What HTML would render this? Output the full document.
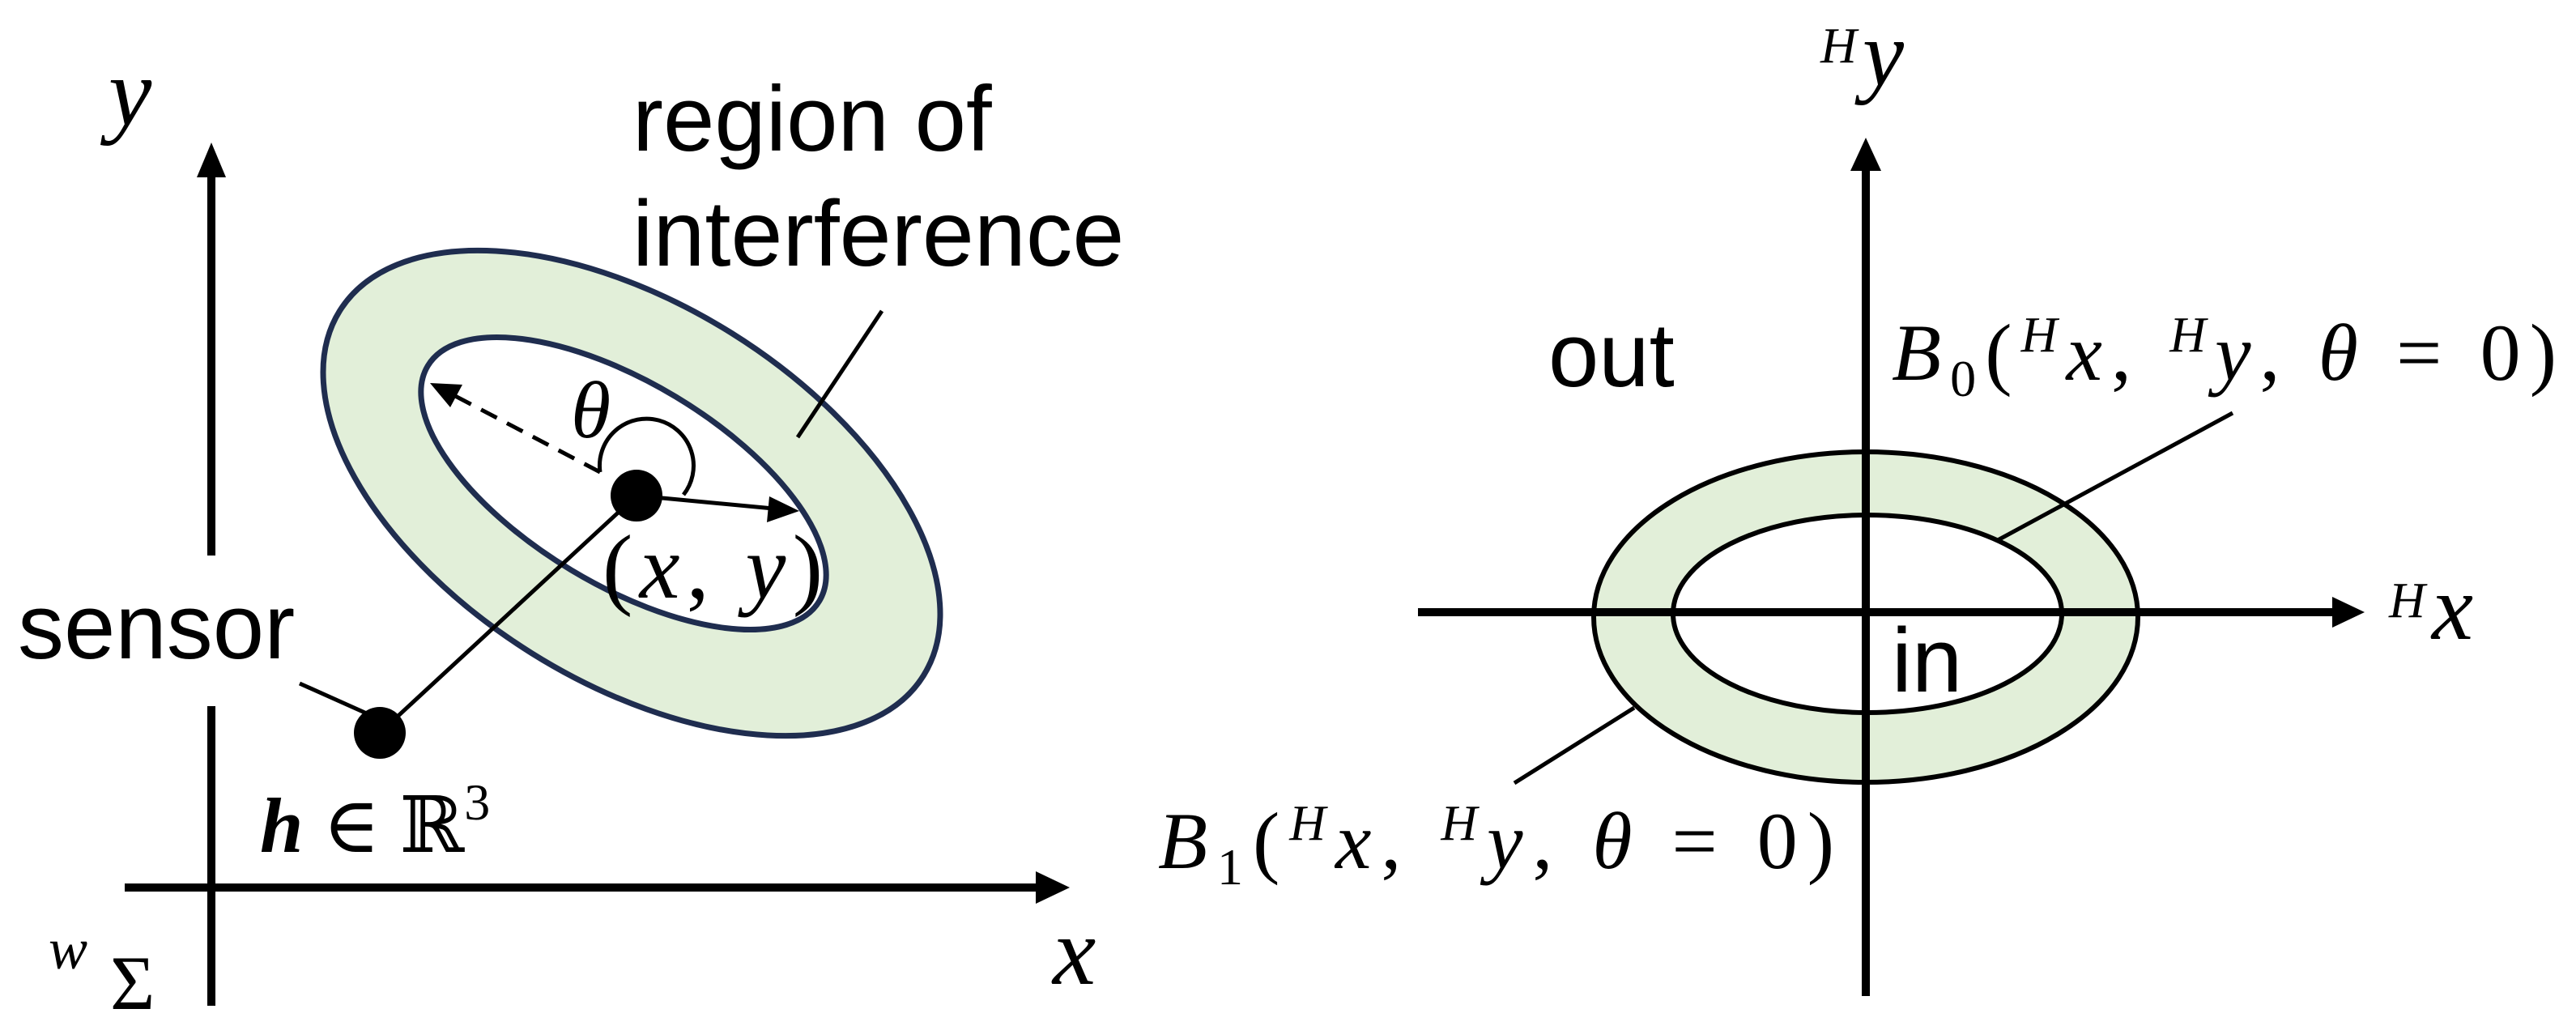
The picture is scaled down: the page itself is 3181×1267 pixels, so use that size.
<!DOCTYPE html>
<html><head><meta charset="utf-8"><style>
html,body{margin:0;padding:0;background:#fff;}
svg{display:block;}
.s{font-family:"Liberation Sans",sans-serif;}
.m{font-family:"Liberation Serif","DejaVu Serif",serif;font-style:italic;}
.r{font-family:"Liberation Serif","DejaVu Serif",serif;}
</style></head><body>
<svg width="3181" height="1267" viewBox="0 0 3181 1267" xmlns="http://www.w3.org/2000/svg">
<!-- LEFT PANEL -->
<line x1="261" y1="686" x2="261" y2="215" stroke="#000" stroke-width="10"/>
<polygon points="261,176 243,219 279,219" fill="#000"/>
<line x1="261" y1="872" x2="261" y2="1242" stroke="#000" stroke-width="10"/>
<line x1="154" y1="1096" x2="1285" y2="1096" stroke="#000" stroke-width="10"/>
<polygon points="1321,1096 1279,1076 1279,1116" fill="#000"/>
<text x="134" y="154" class="m" font-size="120">y</text>
<text x="1300" y="1215" class="m" font-size="120">x</text>
<text x="60" y="1196" class="m" font-size="72">w</text>
<text x="136" y="1246" class="r" font-size="95">Σ</text>

<ellipse cx="780" cy="609" rx="425" ry="233" transform="rotate(32 780 609)" fill="#e2efd9" stroke="#1f2d4f" stroke-width="7"/>
<ellipse cx="770" cy="597" rx="282" ry="125" transform="rotate(31 770 597)" fill="#fff" stroke="#1f2d4f" stroke-width="7"/>

<line x1="1089" y1="384" x2="985" y2="540" stroke="#000" stroke-width="5"/>
<line x1="469" y1="905" x2="786" y2="612" stroke="#000" stroke-width="5"/>
<line x1="741" y1="583" x2="545" y2="480" stroke="#000" stroke-width="5" stroke-dasharray="22,14"/>
<polygon points="531,473 571,475 556,503" fill="#000"/>
<line x1="786" y1="612" x2="955" y2="628" stroke="#000" stroke-width="5"/>
<polygon points="987,631 950,613 947,645" fill="#000"/>
<path d="M741,583 A58,58 0 1 1 844,611" fill="none" stroke="#000" stroke-width="5"/>
<circle cx="786" cy="612" r="32" fill="#000"/>
<circle cx="469" cy="905" r="32" fill="#000"/>
<line x1="370" y1="844" x2="455" y2="882" stroke="#000" stroke-width="5"/>

<text x="705" y="540" class="m" font-size="100">θ</text>
<text x="744" y="738" class="r" font-size="112" textLength="272" lengthAdjust="spacing">(<tspan class="m">x</tspan>, <tspan class="m">y</tspan>)</text>
<text x="781" y="186" class="s" font-size="114">region of</text>
<text x="781" y="328" class="s" font-size="115">interference</text>
<text x="22" y="813" class="s" font-size="114">sensor</text>
<text x="321" y="1052" class="r" font-size="96"><tspan font-weight="bold" font-style="italic">h</tspan> ∈ ℝ<tspan font-size="64" dy="-40">3</tspan></text>

<!-- RIGHT PANEL -->
<ellipse cx="2304" cy="762" rx="336" ry="204" fill="#e2efd9" stroke="#000" stroke-width="6"/>
<ellipse cx="2306" cy="758" rx="240" ry="122" fill="#fff" stroke="#000" stroke-width="6"/>
<line x1="2304" y1="205" x2="2304" y2="1230" stroke="#000" stroke-width="10"/>
<polygon points="2304,170 2285,211 2323,211" fill="#000"/>
<line x1="1751" y1="756" x2="2885" y2="756" stroke="#000" stroke-width="10"/>
<polygon points="2920,756 2880,737 2880,775" fill="#000"/>
<line x1="2757" y1="510" x2="2467" y2="667" stroke="#000" stroke-width="5"/>
<line x1="2018" y1="874" x2="1870" y2="967" stroke="#000" stroke-width="5"/>

<text x="2248" y="77" class="m" font-size="62">H</text>
<text x="2300" y="105" class="m" font-size="115">y</text>
<text x="2950" y="762" class="m" font-size="62">H</text>
<text x="3003" y="789" class="m" font-size="115">x</text>
<text x="1912" y="477" class="s" font-size="112">out</text>
<text x="2336" y="854" class="s" font-size="112">in</text>
<text x="2336" y="469" class="r" font-size="100" textLength="821" lengthAdjust="spacing"><tspan class="m">B</tspan><tspan font-size="64" dy="20">0</tspan><tspan dy="-20">(</tspan><tspan class="m" font-size="62" dy="-35">H</tspan><tspan class="m" dy="35">x</tspan>, <tspan class="m" font-size="62" dy="-35">H</tspan><tspan class="m" dy="35">y</tspan>, <tspan class="m">θ</tspan> = 0)</text>
<text x="1430" y="1072" class="r" font-size="100" textLength="835" lengthAdjust="spacing"><tspan class="m">B</tspan><tspan font-size="64" dy="20">1</tspan><tspan dy="-20">(</tspan><tspan class="m" font-size="62" dy="-35">H</tspan><tspan class="m" dy="35">x</tspan>, <tspan class="m" font-size="62" dy="-35">H</tspan><tspan class="m" dy="35">y</tspan>, <tspan class="m">θ</tspan> = 0)</text>
</svg>
</body></html>
